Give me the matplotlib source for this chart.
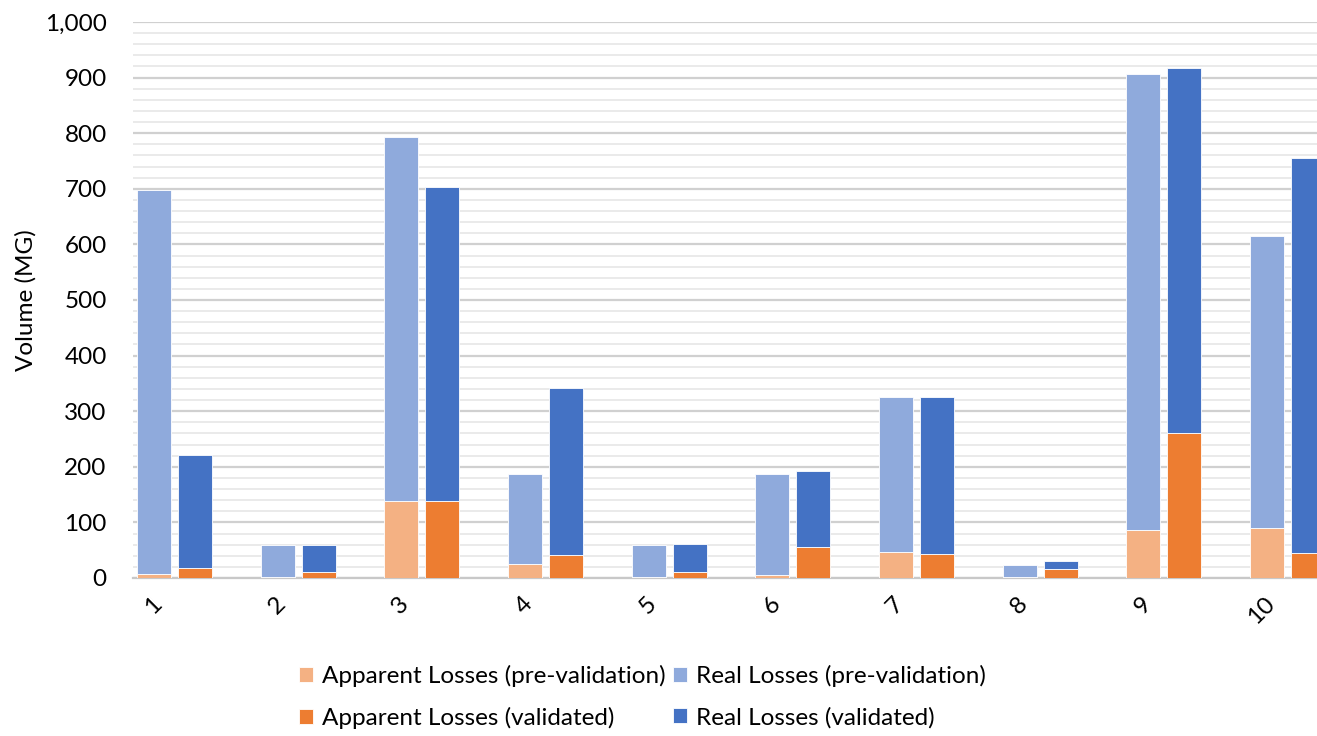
import numpy as np
import matplotlib.pyplot as plt
from matplotlib.ticker import MultipleLocator, FuncFormatter

plt.rcParams['font.family'] = ['Lato', 'DejaVu Sans']

groups = ['1', '2', '3', '4', '5', '6', '7', '8', '9', '10']
apparent_pre = [8, 1, 138, 25, 1, 5, 46, 2, 86, 90]
real_pre_total = [697, 60, 794, 187, 60, 187, 326, 24, 907, 615]
apparent_val = [18, 10, 138, 42, 10, 55, 43, 16, 260, 45]
real_val_total = [221, 60, 703, 341, 62, 193, 326, 31, 917, 756]

real_pre = np.array(real_pre_total) - np.array(apparent_pre)
real_val = np.array(real_val_total) - np.array(apparent_val)

c_ap_pre = '#F4B183'
c_rl_pre = '#8FAADC'
c_ap_val = '#ED7D31'
c_rl_val = '#4472C4'

fig = plt.figure(figsize=(13.17, 7.36), dpi=100)
ax = fig.add_axes([0.101, 0.2147, 0.899, 0.7554])

x = np.arange(len(groups))
w = 0.275
off = 0.166

ax.bar(x - off, apparent_pre, w, color=c_ap_pre, edgecolor='white', linewidth=0.6,
       label='Apparent Losses (pre-validation)', zorder=3)
ax.bar(x - off, real_pre, w, bottom=apparent_pre, color=c_rl_pre, edgecolor='white',
       linewidth=0.6, label='Real Losses (pre-validation)', zorder=3)
ax.bar(x + off, apparent_val, w, color=c_ap_val, edgecolor='white', linewidth=0.6,
       label='Apparent Losses (validated)', zorder=3)
ax.bar(x + off, real_val, w, bottom=apparent_val, color=c_rl_val, edgecolor='white',
       linewidth=0.6, label='Real Losses (validated)', zorder=3)

ax.set_xlim(-0.336, 9.24)
ax.set_ylim(0, 1000)
ax.yaxis.set_major_locator(MultipleLocator(100))
ax.yaxis.set_minor_locator(MultipleLocator(20))
ax.yaxis.set_major_formatter(FuncFormatter(lambda v, p: f'{int(v):,}'))
ax.grid(axis='y', which='major', color='#D0D0D0', linewidth=1.6, zorder=0)
ax.grid(axis='y', which='minor', color='#E6E6E6', linewidth=1.2, zorder=0)
ax.tick_params(axis='y', which='both', length=0, pad=19, labelsize=17.5)
ax.tick_params(axis='x', length=0, pad=11, labelsize=17.5)

ax.set_xticks(x - 0.19)
ax.set_xticklabels(groups, rotation=45, ha='right', rotation_mode='anchor')

for s in ['top', 'right', 'left']:
    ax.spines[s].set_visible(False)
ax.spines['bottom'].set_color('#C8C8C8')
ax.spines['bottom'].set_linewidth(1.6)

ax.set_ylabel('Volume (MG)', fontsize=17.5, labelpad=6)

h, l = ax.get_legend_handles_labels()
order = [0, 2, 1, 3]
fig.legend([h[i] for i in order], [l[i] for i in order], ncol=2,
           loc='center', bbox_to_anchor=(0.488, 0.053), frameon=False,
           fontsize=17.5, handlelength=0.55, handleheight=0.55, handletextpad=0.4,
           columnspacing=0.3, labelspacing=0.8)

fig.savefig('out.png', dpi=100)
